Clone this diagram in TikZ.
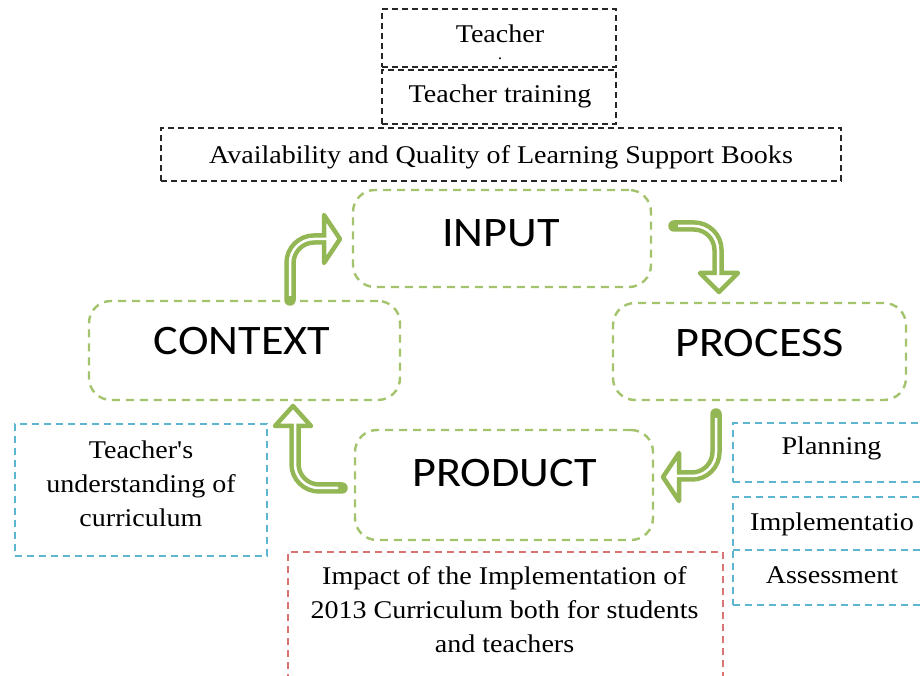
\documentclass[tikz,border=0pt]{standalone}
\usepackage{fontspec}
\setmainfont{Liberation Serif}[FakeStretch=1.1, Ligatures=TeXOff]
\newfontfamily\calfont{Carlito}[FakeStretch=1.1]
\definecolor{boxgreen}{HTML}{A3C36C}
\definecolor{arrgreen}{HTML}{94B755}
\definecolor{boxblue}{HTML}{5DB6CF}
\definecolor{boxred}{HTML}{D97474}
\begin{document}
\begin{tikzpicture}[x=1pt,y=-1pt,
  bk/.style={draw=black!85, line width=1.6pt, dash pattern=on 6pt off 4pt, inner sep=0pt},
  gb/.style={draw=boxgreen, line width=2.4pt, dash pattern=on 8pt off 6pt, rounded corners=22pt, inner sep=0pt},
  bb/.style={draw=boxblue, line width=1.8pt, dash pattern=on 7pt off 5pt, inner sep=0pt},
  rb/.style={draw=boxred, line width=1.8pt, dash pattern=on 7pt off 5pt, inner sep=0pt},
  st/.style={font=\fontsize{25.5}{34}\selectfont, inner sep=0pt},
  sl/.style={st, align=center},
  big/.style={font=\calfont\fontsize{42}{46}\selectfont, inner sep=0pt},
  shout/.style={draw=arrgreen, line width=11.5pt, line cap=round, rounded corners=24pt},
  shin/.style={draw=white, line width=2.5pt, rounded corners=24pt},
  ahead/.style={draw=arrgreen, fill=white, line width=4.5pt, line join=round}]
\useasboundingbox (0,0) rectangle (922,676);
\fill[white] (0,0) rectangle (922,676);

% top black dashed boxes
\node[bk, minimum width=234, minimum height=58] (tbox) at (499,38) {};
\node[bk, minimum width=234, minimum height=54] (ttbox) at (499,97) {};
\node[bk, minimum width=680, minimum height=53] (abox) at (501,154.5) {};
\node[st, anchor=base] (t1) at (500,43) {Teacher};
\node[st, anchor=base, font=\fontsize{16}{16}\selectfont, text height=1.5pt, text depth=0pt] (t1dot) at (500,60) {.};
\node[st, anchor=base] (t2) at (500,103) {Teacher training};
\node[st, anchor=base] (t3) at (501,164) {Availability and Quality of Learning Support Books};

% green cycle boxes
\node[gb, minimum width=298, minimum height=97] (input) at (502,238.5) {};
\node[gb, minimum width=311, minimum height=99] (context) at (244.5,350.5) {};
\node[gb, minimum width=293, minimum height=97] (process) at (759.5,351.5) {};
\node[gb, minimum width=298, minimum height=110] (product) at (504,485) {};
\node[big] (inputt) at (501,233) {INPUT};
\node[big] (contextt) at (242,341.5) {CONTEXT};
\node[big] (processt) at (759.5,343) {PROCESS};
\node[big] (productt) at (504.5,473) {PRODUCT};

% blue boxes
\node[bb, minimum width=252, minimum height=132] (ubox) at (141,490) {};
\node[sl] (ut) at (141,483.5) {Teacher's\\understanding of\\curriculum};
\node[bb, minimum width=207, minimum height=59] (pbox) at (836.5,452.5) {};
\node[bb, minimum width=207, minimum height=108] (ibox) at (836.5,551) {};
\coordinate (sepw) at (733,550); \coordinate (sepe) at (940,550);
\draw[bb] (sepw) -- (sepe);
\node[st, anchor=base] (pt) at (831.5,455) {Planning};
\node[st, anchor=base] (it) at (832,530) {Implementatio};
\node[st, anchor=base] (stt) at (832,583) {Assessment};

% red box
\node[rb, minimum width=435, minimum height=148] (rbox) at (505.5,626) {};
\node[sl] (rt) at (504.5,609.5) {Impact of the Implementation of\\2013 Curriculum both for students\\and teachers};

% arrows
\coordinate (a1s) at (290,300); \coordinate (a1c) at (290,239); \coordinate (a1e) at (325,239);
\draw[shout] (a1s) -- (a1c) -- (a1e);
\draw[ahead] (324,215) -- (340,239) -- (324,263) -- cycle;
\draw[shin, shorten <=4pt] (a1s) -- (a1c) -- ([xshift=4pt]a1e);

\coordinate (a2s) at (674,226); \coordinate (a2c) at (718,226); \coordinate (a2e) at (718,273);
\draw[shout] (a2s) -- (a2c) -- (a2e);
\draw[ahead] (700,273) -- (738,273) -- (719,292) -- cycle;
\draw[shin, shorten <=4pt] (a2s) -- (a2c) -- ([yshift=-4pt]a2e);

\coordinate (a3s) at (716,414); \coordinate (a3c) at (716,476); \coordinate (a3e) at (679,476);
\draw[shout] (a3s) -- (a3c) -- (a3e);
\draw[ahead] (679,453) -- (663,477) -- (679,501) -- cycle;
\draw[shin, shorten <=4pt] (a3s) -- (a3c) -- ([xshift=-4pt]a3e);

\coordinate (a4s) at (342,488); \coordinate (a4c) at (295,488); \coordinate (a4e) at (295,426);
\draw[shout] (a4s) -- (a4c) -- (a4e);
\draw[ahead] (275,426) -- (293,406) -- (311,426) -- cycle;
\draw[shin, shorten <=4pt] (a4s) -- (a4c) -- ([yshift=4pt]a4e);
\end{tikzpicture}
\end{document}
